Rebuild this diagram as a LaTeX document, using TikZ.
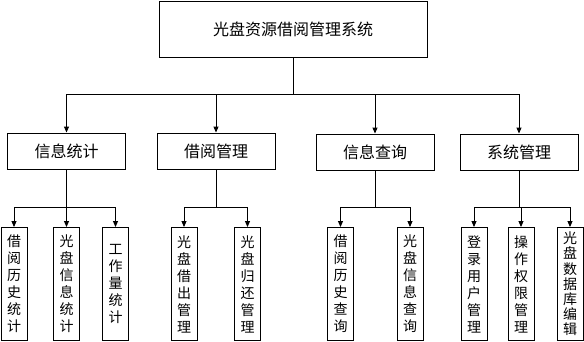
\documentclass[tikz,border=0pt]{standalone}
\usepackage{fontspec}
\setmainfont{Noto Sans CJK SC}
\usetikzlibrary{arrows.meta}

\begin{document}
\begin{tikzpicture}[x=1pt, y=-1pt, font=\fontsize{16}{19}\selectfont,
    box/.style={draw, line width=0.9pt, inner sep=0pt, minimum width=118pt, minimum height=36pt},
    leaf/.style={draw, line width=0.9pt, inner sep=0pt, minimum width=26pt, minimum height=113pt,
                 align=center, font=\fontsize{14}{17}\selectfont},
    arr/.style={line width=0.9pt, -{Triangle[length=6pt,width=5pt]}}]
    \useasboundingbox (0,0) rectangle (584,341);
    % top level
    \node[box, minimum width=268pt, minimum height=56pt] (sys) at (293,29) {光盘资源借阅管理系统};
    \coordinate (busA) at (0,94);
    \coordinate (busB) at (0,207);
    % second level
    \node[box] (tj) at (66.5,151) {信息统计};
    \node[box] (jy) at (216,151) {借阅管理};
    \node[box] (cx) at (375,152) {信息查询};
    \node[box] (gl) at (519,152) {系统管理};
    % leaves
    \node[leaf] (tj1) at (14,284)    {借\\阅\\历\\史\\统\\计};
    \node[leaf] (tj2) at (66.5,284)  {光\\盘\\信\\息\\统\\计};
    \node[leaf] (tj3) at (115.5,284) {工\\作\\量\\统\\计};
    \node[leaf] (jy1) at (184,284)   {光\\盘\\借\\出\\管\\理};
    \node[leaf] (jy2) at (247.5,284) {光\\盘\\归\\还\\管\\理};
    \node[leaf] (cx1) at (340.5,284) {借\\阅\\历\\史\\查\\询};
    \node[leaf] (cx2) at (410,284)   {光\\盘\\信\\息\\查\\询};
    \node[leaf] (gl1) at (474,284)   {登\\录\\用\\户\\管\\理};
    \node[leaf] (gl2) at (521,284)   {操\\作\\权\\限\\管\\理};
    \node[leaf, font=\fontsize{14}{15.2}\selectfont] (gl3) at (570,284) {光\\盘\\数\\据\\库\\编\\辑};
    % connectors
    \foreach \c in {tj,jy,cx,gl}
        \draw[arr] (sys.south) -- (sys.south |- busA) -| (\c.north);
    \foreach \p/\k in {tj/tj1, tj/tj2, tj/tj3, jy/jy1, jy/jy2, cx/cx1, cx/cx2, gl/gl1, gl/gl2, gl/gl3}
        \draw[arr] (\p.south) -- (\p.south |- busB) -| (\k.north);
\end{tikzpicture}
\end{document}
